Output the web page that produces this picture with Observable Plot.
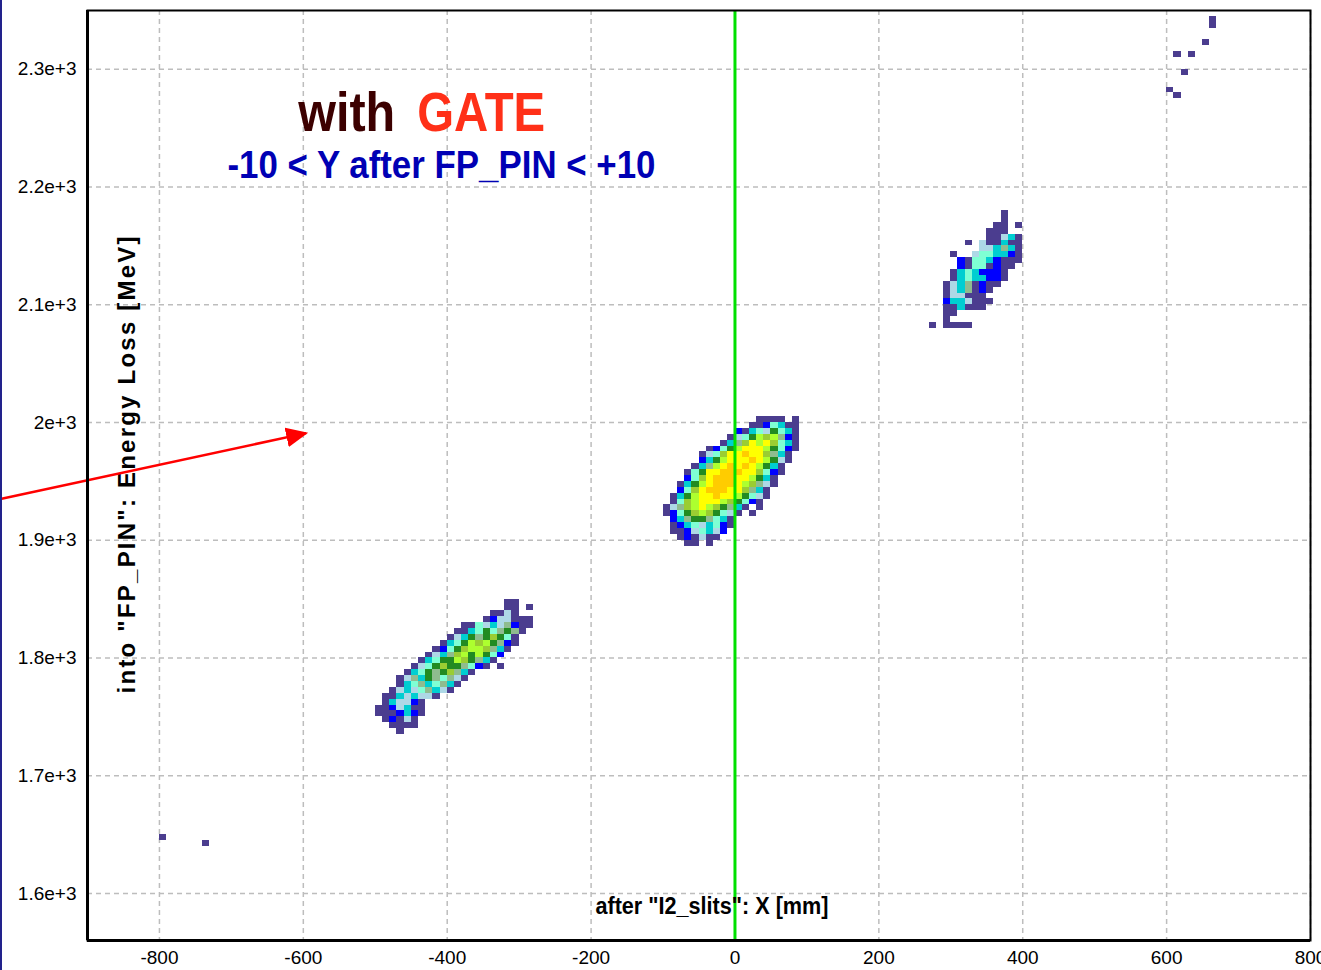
<!DOCTYPE html>
<html>
<head>
<meta charset="utf-8">
<script src="https://cdn.jsdelivr.net/npm/d3@7"></script>
<script src="https://cdn.jsdelivr.net/npm/@observablehq/plot@0.6"></script>
<style>
  html, body { margin: 0; padding: 0; background: #fff; }
  #chart { position: relative; width: 1321px; height: 970px; overflow: hidden; }
  #chart svg { display: block; }
  #edge { position: absolute; left: 0; top: 0; width: 2px; height: 970px; background: #22228c; }
</style>
</head>
<body>
<div id="chart"></div>
<script>
// Histogram binning (mm × MeV)
const binW = 10, binH = 5;

// Axis ticks
const xTicks = [-800, -600, -400, -200, 0, 200, 400, 600, 800];
const yTicks = [1600, 1700, 1800, 1900, 2000, 2100, 2200, 2300];
const xDomain = [-900, 800];
const yDomain = [1560, 2350];

// Count levels, low to high
const levelKeys = ["1", "2", "3", "4", "5", "6", "7", "8", "9", "Y", "O"];
const levelColors = ["#4b3d8f", "#0000ff", "#add8e6", "#00ced1", "#7fffd4", "#8fbc8f",
                     "#228b22", "#9acd32", "#adff2f", "#ffff00", "#ffcc00"];

// Central cluster: one string per 5 MeV row (top row first), one char per 10 mm column
const centralLeft = -100, centralTop = 2000;
const centralRows = [
  ".............1111.1.",
  "............1125411.",
  "..........214537541.",
  ".........1357989621.",
  "........1468Y9Y8541.",
  "......12579YYY97521.",
  ".....1358YYOYY8641..",
  ".....2479YYYOY9731..",
  "....1469YOYOY9741...",
  "...157YYOOOYY8521...",
  "...258YOOOYY9741....",
  "..1479YOOOY98631....",
  "..258YOOOYY8641.....",
  ".1479YYOYY97531.....",
  ".1589YYY987521......",
  "13689Y987641.1......",
  "12578987531.1.......",
  ".246776541..........",
  ".124534521..........",
  ".11235432...........",
  "..121311............",
  "...11.1............."
];

// Lower-left cluster
const lowerLeft = -500, lowerTop = 1845;
const lowerRows = [
  "..................11...",
  "..................11.1.",
  "................1131...",
  "...............1233111.",
  "............1153436211.",
  "...........1145756761..",
  "..........1347678751...",
  ".........14579897621...",
  "........12578998641....",
  ".......13468979752.....",
  "......14577987641......",
  ".....13578776521.1.....",
  "....1457678641.........",
  "...1364765631..........",
  "...145645641...........",
  "..134356431............",
  ".11434331..............",
  ".143321................",
  "1123411................",
  "1112421................",
  ".12131.................",
  "..1111.................",
  "...1..................."
];

// Upper-right cluster
const upperLeft = 270, upperTop = 2175;
const upperRows = [
  "..........1..",
  "..........1..",
  ".........11.1",
  "........111..",
  "........11341",
  ".....1.311411",
  ".......334641",
  "...1..3554421",
  "....215542111",
  "....21551211.",
  "...14542221..",
  "...14544221..",
  "..13461211...",
  "..1346121....",
  "..133111.....",
  "..2443111....",
  "..114111.....",
  "..11.........",
  "..1..........",
  "1.1111......."
];

// Isolated single counts
const strayX = [-800, -740, 660, 660, 650, 610, 630, 620, 600, 610];
const strayY = [1645, 1640, 2340, 2335, 2320, 2310, 2310, 2295, 2280, 2275];

// Gate line and pointer
const gateX = [0];
const pointerFrom = [-1021, 1935];
const pointerTo = [-596, 1991];

// Annotation texts
const titleWords = ["with", "GATE"];
const titleColors = ["#3c0000", "#ff3018"];
const titleAt = [-457, 2263];
const subtitleText = "-10 < Y after FP_PIN < +10";
const subtitleAt = [-408, 2218];
const xLabelText = "after \"I2_slits\": X [mm]";
const xLabelAt = [-32, 1589];
const yLabelText = "into \"FP_PIN\": Energy Loss [MeV]";
const yLabelAt = [-845, 1964];

function cellsFrom(rows, left, top) {
  const out = [];
  rows.forEach((row, r) => {
    Array.from(row).forEach((ch, c) => {
      if (ch !== ".") out.push({x: left + c * binW, y: top - r * binH, level: ch});
    });
  });
  return out;
}

const cells = [
  ...cellsFrom(centralRows, centralLeft, centralTop),
  ...cellsFrom(lowerRows, lowerLeft, lowerTop),
  ...cellsFrom(upperRows, upperLeft, upperTop),
  ...strayX.map((x, i) => ({x, y: strayY[i], level: "1"}))
];

const font = "'Liberation Sans', Arial, sans-serif";

const chart = Plot.plot({
  width: 1321,
  height: 970,
  marginLeft: 87,
  marginRight: 11,
  marginTop: 10,
  marginBottom: 30,
  style: {fontFamily: font, fontSize: "19px", color: "#000", background: "#fff"},
  x: {domain: xDomain},
  y: {domain: yDomain},
  color: {type: "ordinal", domain: levelKeys, range: levelColors},
  marks: [
    Plot.gridX(xTicks, {stroke: "#bdbdbd", strokeOpacity: 1, strokeWidth: 1.5, strokeDasharray: "5,4"}),
    Plot.gridY(yTicks, {stroke: "#bdbdbd", strokeOpacity: 1, strokeWidth: 1.5, strokeDasharray: "5,4"}),
    Plot.axisX({ticks: xTicks, tickFormat: d => String(d), tickSize: 0, tickPadding: 10, label: null, fontSize: 19}),
    Plot.axisY({ticks: yTicks, tickFormat: d => `${d / 1000}e+3`, tickSize: 0, tickPadding: 11, label: null, fontSize: 19}),
    Plot.rect(cells, {
      x1: "x", x2: d => d.x + binW,
      y1: "y", y2: d => d.y + binH,
      fill: "level", shapeRendering: "crispEdges"
    }),
    Plot.ruleX(gateX, {stroke: "#00e000", strokeWidth: 3}),
    // text marks, in this order: title word 1, title word 2, subtitle, x label, y label
    Plot.text(titleWords.slice(0, 1), {
      x: titleAt[0], y: titleAt[1], textAnchor: "end", dx: -11,
      fill: titleColors[0], fontSize: 56, fontWeight: "bold"
    }),
    Plot.text(titleWords.slice(1), {
      x: titleAt[0], y: titleAt[1], textAnchor: "start", dx: 11,
      fill: titleColors[1], fontSize: 56, fontWeight: "bold"
    }),
    Plot.text([subtitleText], {
      x: subtitleAt[0], y: subtitleAt[1], fill: "#0000b4",
      fontSize: 39, fontWeight: "bold"
    }),
    Plot.text([xLabelText], {
      x: xLabelAt[0], y: xLabelAt[1], fill: "#000",
      fontSize: 23, fontWeight: "bold"
    }),
    Plot.text([yLabelText], {
      x: yLabelAt[0], y: yLabelAt[1], rotate: -90, fill: "#000",
      fontSize: 24, fontWeight: "bold"
    }),
    Plot.link([{x1: pointerFrom[0], y1: pointerFrom[1], x2: pointerTo[0], y2: pointerTo[1]}], {
      x1: "x1", y1: "y1", x2: "x2", y2: "y2",
      stroke: "#ff0000", strokeWidth: 2.5
    }),
    Plot.frame({stroke: "#000", strokeWidth: 2}),
    Plot.ruleX([xDomain[0]], {stroke: "#000", strokeWidth: 3}),
    Plot.ruleY([yDomain[0]], {stroke: "#000", strokeWidth: 3})
  ]
});

// Fit annotation widths (text marks in declaration order)
const svg = d3.select(chart);
const textGroups = svg.selectAll('g[aria-label="text"]').nodes();
const fits = [
  [97, "spacingAndGlyphs"],
  [128, "spacingAndGlyphs"],
  [428, "spacingAndGlyphs"],
  [233, "spacingAndGlyphs"],
  [457, "spacing"]
];
textGroups.forEach((g, i) => {
  if (!fits[i]) return;
  d3.select(g).selectAll("text")
    .attr("textLength", fits[i][0])
    .attr("lengthAdjust", fits[i][1]);
});

// Filled arrowhead on the pointer
const defs = svg.insert("defs", ":first-child");
defs.append("marker")
  .attr("id", "pointer-head")
  .attr("viewBox", "0 0 22 20")
  .attr("refX", 20).attr("refY", 10)
  .attr("markerWidth", 22).attr("markerHeight", 20)
  .attr("markerUnits", "userSpaceOnUse")
  .attr("orient", "auto")
  .append("path")
  .attr("d", "M0,0L22,10L0,20Z")
  .attr("fill", "#ff0000");
svg.selectAll('g[aria-label="link"] path').attr("marker-end", "url(#pointer-head)");
svg.style("overflow", "visible");

const holder = document.getElementById("chart");
holder.appendChild(chart);
const edge = document.createElement("div");
edge.id = "edge";
holder.appendChild(edge);
</script>
</body>
</html>
